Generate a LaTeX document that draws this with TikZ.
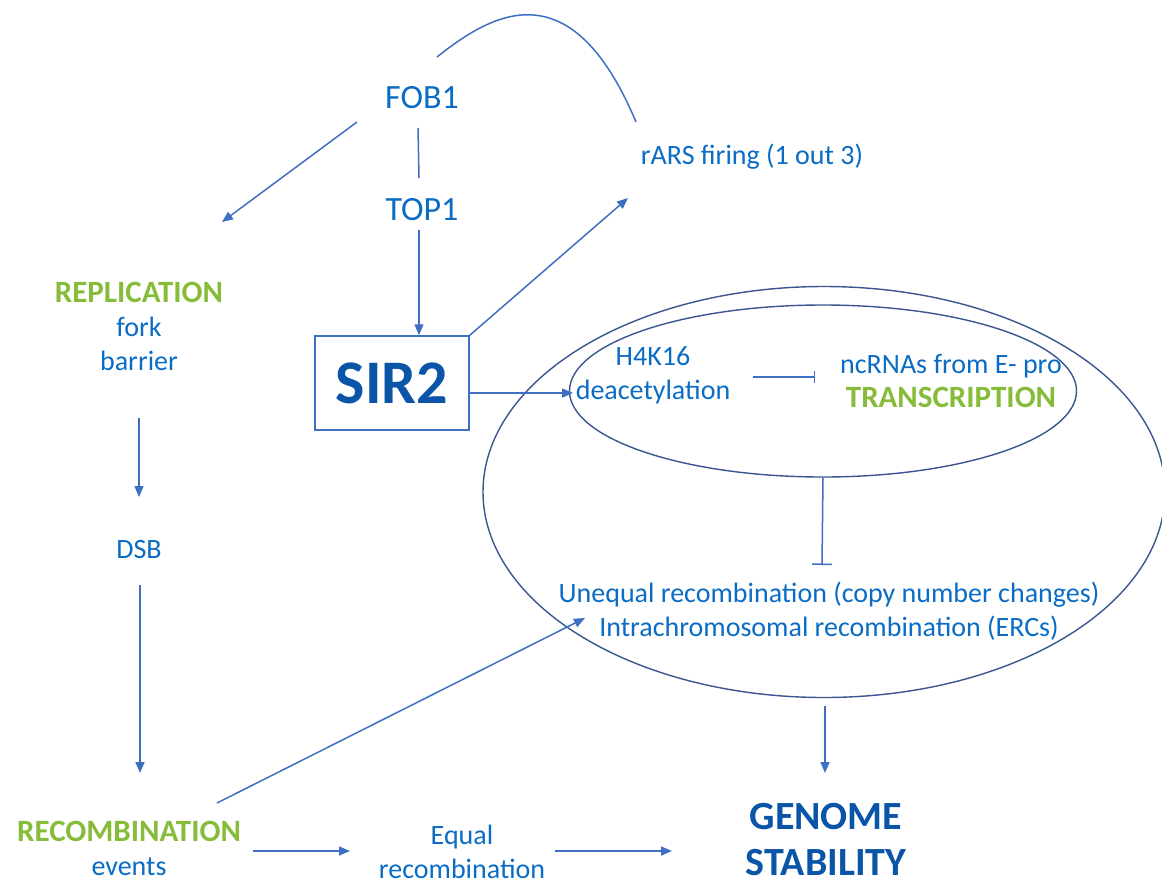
\documentclass[tikz,border=0pt]{standalone}
\usepackage{fontspec}
\setmainfont{Carlito}
\usetikzlibrary{arrows.meta,calc,shapes.geometric}

\definecolor{txtblue}{HTML}{0A6CC4}
\definecolor{darkblue}{HTML}{0B55A8}
\definecolor{linkblue}{HTML}{3F6FC2}
\definecolor{ringblue}{HTML}{3A5590}
\definecolor{leafgreen}{HTML}{86BC3A}

\tikzset{
  txt/.style={text=txtblue, font=\fontsize{28}{34}\selectfont, align=center, inner sep=0pt},
  gene/.style={text=txtblue, font=\fontsize{34}{40}\selectfont, inner sep=0pt},
  link/.style={draw=linkblue, line width=1.5pt, -{Triangle[length=11pt,width=9pt]}},
  plain/.style={draw=linkblue, line width=1.5pt},
  block/.style={draw=linkblue, line width=1.5pt, -{Bar[width=20pt,line width=1.5pt]}},
  smallblock/.style={draw=linkblue, line width=1.5pt, -{Bar[width=12pt,line width=1.5pt]}},
  ring/.style={draw=ringblue, line width=1.4pt},
  sirbox/.style={draw=linkblue, line width=1.5pt, minimum width=154pt, minimum height=94pt,
    text=darkblue, font=\fontsize{62}{70}\selectfont\bfseries, inner sep=0pt},
  bigword/.style={text=darkblue, font=\fontsize{40}{44}\selectfont\bfseries, align=center, inner sep=0pt},
}
\newcommand{\grn}[1]{{\color{leafgreen}\fontsize{31}{34}\selectfont\bfseries #1}}

\begin{document}
\begin{tikzpicture}[x=1pt,y=-1pt]
\useasboundingbox (0,0) rectangle (1162,881);

% nested ellipses around the rDNA events
\node[ring, ellipse, minimum width=682pt, minimum height=411pt, inner sep=0pt] (outer) at (824,492) {};
\node[ring, ellipse, minimum width=507pt, minimum height=172pt, inner sep=0pt] (inner) at (823,391) {};

% labels
\node[gene] (fob) at (422,98) {FOB1};
\node[gene] (top) at (422,210) {TOP1};
\node[txt] (rars) at (752,157) {rARS firing (1 out 3)};
\node[sirbox] (sir) at (392,383) {SIR2};
\node[txt] (h4k) at (653,375) {H4K16\\deacetylation};
\node[txt] (nc) at (951,381) {ncRNAs from E- pro\\\grn{TRANSCRIPTION}};
\node[txt] (uneq) at (829,611) {Unequal recombination (copy number changes)\\Intrachromosomal recombination (ERCs)};
\node[txt] (rep) at (139,326) {\grn{REPLICATION}\\fork\\barrier};
\node[txt] (dsb) at (139,550) {DSB};
\node[txt] (rec) at (129,848) {\grn{RECOMBINATION}\\events};
\node[txt] (eq) at (462,852) {Equal\\recombination};
\node[bigword] (gen) at (826,840) {GENOME\\[2pt]STABILITY};

% FOB1 loops over to rARS firing
\draw[plain] ($(fob)+(15,-41)$) .. controls ($(fob)+(68,-83)$) and ($(fob)+(148,-133)$) .. ($(rars)+(-116,-35)$);

% connectors
\draw[link] ($(fob)+(-65,24)$) -- ($(rep)+(83,-104)$);
\draw[plain] ($(fob)+(-4,30)$) -- ($(top)+(-3,-32)$);
\draw[link] ($(top)+(-3,20)$) -- ($(sir.north)+(27,0)$);
\draw[link] (sir.north east) -- ($(rars)+(-124,41)$);
\draw[link] ($(sir.east)+(0,10)$) -- ($(h4k)+(-80,18)$);
\draw[smallblock] ($(h4k)+(100,2)$) -- ($(nc)+(-136,-4)$);
\draw[block] (inner.south) -- ($(uneq)+(-7,-46)$);
\draw[link] ($(rec)+(88,-45)$) -- ($(uneq)+(-244,7)$);
\draw[link] ($(outer.south)+(1,8)$) -- ($(gen)+(-1,-67)$);
\draw[link] ($(rep)+(0,92)$) -- ($(dsb)+(0,-53)$);
\draw[link] ($(dsb)+(1,35)$) -- ($(rec)+(11,-75)$);
\draw[link] ($(rec)+(124,3)$) -- ($(eq)+(-112,-1)$);
\draw[link] ($(eq)+(93,-1)$) -- ($(gen)+(-154,11)$);
\end{tikzpicture}
\end{document}
